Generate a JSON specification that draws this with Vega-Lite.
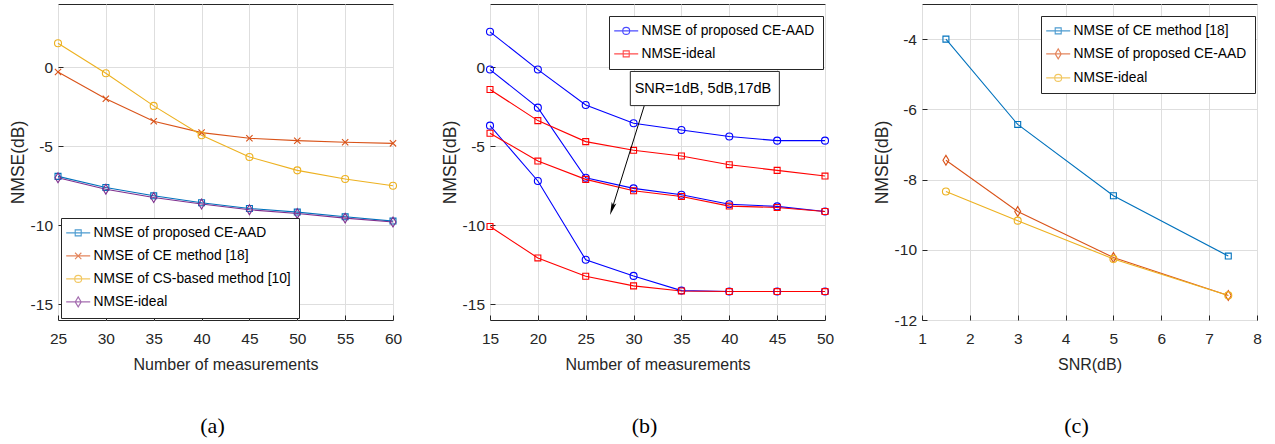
{
  "$schema": "https://vega.github.io/schema/vega-lite/v6.json",
  "background": "white",
  "padding": {"left": 8, "top": 3, "right": 5, "bottom": 2},
  "bounds": "flush",
  "spacing": 97,
  "datasets": {
    "a": [
      {"x": 25, "s": "NMSE of proposed CE-AAD", "y": -6.91},
      {"x": 30, "s": "NMSE of proposed CE-AAD", "y": -7.61},
      {"x": 35, "s": "NMSE of proposed CE-AAD", "y": -8.14},
      {"x": 40, "s": "NMSE of proposed CE-AAD", "y": -8.58},
      {"x": 45, "s": "NMSE of proposed CE-AAD", "y": -8.94},
      {"x": 50, "s": "NMSE of proposed CE-AAD", "y": -9.17},
      {"x": 55, "s": "NMSE of proposed CE-AAD", "y": -9.47},
      {"x": 60, "s": "NMSE of proposed CE-AAD", "y": -9.74},
      {"x": 25, "s": "NMSE of CE method [18]", "y": -0.3},
      {"x": 30, "s": "NMSE of CE method [18]", "y": -2.0},
      {"x": 35, "s": "NMSE of CE method [18]", "y": -3.42},
      {"x": 40, "s": "NMSE of CE method [18]", "y": -4.14},
      {"x": 45, "s": "NMSE of CE method [18]", "y": -4.5},
      {"x": 50, "s": "NMSE of CE method [18]", "y": -4.65},
      {"x": 55, "s": "NMSE of CE method [18]", "y": -4.75},
      {"x": 60, "s": "NMSE of CE method [18]", "y": -4.82},
      {"x": 25, "s": "NMSE of CS-based method [10]", "y": 1.52},
      {"x": 30, "s": "NMSE of CS-based method [10]", "y": -0.38},
      {"x": 35, "s": "NMSE of CS-based method [10]", "y": -2.45},
      {"x": 40, "s": "NMSE of CS-based method [10]", "y": -4.31},
      {"x": 45, "s": "NMSE of CS-based method [10]", "y": -5.68},
      {"x": 50, "s": "NMSE of CS-based method [10]", "y": -6.53},
      {"x": 55, "s": "NMSE of CS-based method [10]", "y": -7.08},
      {"x": 60, "s": "NMSE of CS-based method [10]", "y": -7.5},
      {"x": 25, "s": "NMSE-ideal", "y": -7.0},
      {"x": 30, "s": "NMSE-ideal", "y": -7.72},
      {"x": 35, "s": "NMSE-ideal", "y": -8.25},
      {"x": 40, "s": "NMSE-ideal", "y": -8.66},
      {"x": 45, "s": "NMSE-ideal", "y": -9.02},
      {"x": 50, "s": "NMSE-ideal", "y": -9.26},
      {"x": 55, "s": "NMSE-ideal", "y": -9.55},
      {"x": 60, "s": "NMSE-ideal", "y": -9.8}
    ],
    "b": [
      {"x": 15, "m": "NMSE of proposed CE-AAD", "snr": 1, "y": 2.24},
      {"x": 20, "m": "NMSE of proposed CE-AAD", "snr": 1, "y": -0.15},
      {"x": 25, "m": "NMSE of proposed CE-AAD", "snr": 1, "y": -2.39},
      {"x": 30, "m": "NMSE of proposed CE-AAD", "snr": 1, "y": -3.55},
      {"x": 35, "m": "NMSE of proposed CE-AAD", "snr": 1, "y": -3.97},
      {"x": 40, "m": "NMSE of proposed CE-AAD", "snr": 1, "y": -4.39},
      {"x": 45, "m": "NMSE of proposed CE-AAD", "snr": 1, "y": -4.65},
      {"x": 50, "m": "NMSE of proposed CE-AAD", "snr": 1, "y": -4.65},
      {"x": 15, "m": "NMSE of proposed CE-AAD", "snr": 5, "y": -0.15},
      {"x": 20, "m": "NMSE of proposed CE-AAD", "snr": 5, "y": -2.56},
      {"x": 25, "m": "NMSE of proposed CE-AAD", "snr": 5, "y": -7.0},
      {"x": 30, "m": "NMSE of proposed CE-AAD", "snr": 5, "y": -7.67},
      {"x": 35, "m": "NMSE of proposed CE-AAD", "snr": 5, "y": -8.07},
      {"x": 40, "m": "NMSE of proposed CE-AAD", "snr": 5, "y": -8.67},
      {"x": 45, "m": "NMSE of proposed CE-AAD", "snr": 5, "y": -8.81},
      {"x": 50, "m": "NMSE of proposed CE-AAD", "snr": 5, "y": -9.13},
      {"x": 15, "m": "NMSE of proposed CE-AAD", "snr": 17, "y": -3.7},
      {"x": 20, "m": "NMSE of proposed CE-AAD", "snr": 17, "y": -7.2},
      {"x": 25, "m": "NMSE of proposed CE-AAD", "snr": 17, "y": -12.19},
      {"x": 30, "m": "NMSE of proposed CE-AAD", "snr": 17, "y": -13.21},
      {"x": 35, "m": "NMSE of proposed CE-AAD", "snr": 17, "y": -14.14},
      {"x": 40, "m": "NMSE of proposed CE-AAD", "snr": 17, "y": -14.2},
      {"x": 45, "m": "NMSE of proposed CE-AAD", "snr": 17, "y": -14.2},
      {"x": 50, "m": "NMSE of proposed CE-AAD", "snr": 17, "y": -14.2},
      {"x": 15, "m": "NMSE-ideal", "snr": 1, "y": -1.41},
      {"x": 20, "m": "NMSE-ideal", "snr": 1, "y": -3.38},
      {"x": 25, "m": "NMSE-ideal", "snr": 1, "y": -4.71},
      {"x": 30, "m": "NMSE-ideal", "snr": 1, "y": -5.26},
      {"x": 35, "m": "NMSE-ideal", "snr": 1, "y": -5.62},
      {"x": 40, "m": "NMSE-ideal", "snr": 1, "y": -6.17},
      {"x": 45, "m": "NMSE-ideal", "snr": 1, "y": -6.53},
      {"x": 50, "m": "NMSE-ideal", "snr": 1, "y": -6.89},
      {"x": 15, "m": "NMSE-ideal", "snr": 5, "y": -4.18},
      {"x": 20, "m": "NMSE-ideal", "snr": 5, "y": -5.94},
      {"x": 25, "m": "NMSE-ideal", "snr": 5, "y": -7.1},
      {"x": 30, "m": "NMSE-ideal", "snr": 5, "y": -7.82},
      {"x": 35, "m": "NMSE-ideal", "snr": 5, "y": -8.18},
      {"x": 40, "m": "NMSE-ideal", "snr": 5, "y": -8.79},
      {"x": 45, "m": "NMSE-ideal", "snr": 5, "y": -8.88},
      {"x": 50, "m": "NMSE-ideal", "snr": 5, "y": -9.13},
      {"x": 15, "m": "NMSE-ideal", "snr": 17, "y": -10.08},
      {"x": 20, "m": "NMSE-ideal", "snr": 17, "y": -12.07},
      {"x": 25, "m": "NMSE-ideal", "snr": 17, "y": -13.23},
      {"x": 30, "m": "NMSE-ideal", "snr": 17, "y": -13.84},
      {"x": 35, "m": "NMSE-ideal", "snr": 17, "y": -14.16},
      {"x": 40, "m": "NMSE-ideal", "snr": 17, "y": -14.2},
      {"x": 45, "m": "NMSE-ideal", "snr": 17, "y": -14.2},
      {"x": 50, "m": "NMSE-ideal", "snr": 17, "y": -14.2}
    ],
    "c": [
      {"x": 1.5, "s": "NMSE of CE method [18]", "y": -4.0},
      {"x": 3, "s": "NMSE of CE method [18]", "y": -6.43},
      {"x": 5, "s": "NMSE of CE method [18]", "y": -8.46},
      {"x": 7.4, "s": "NMSE of CE method [18]", "y": -10.18},
      {"x": 1.5, "s": "NMSE of proposed CE-AAD", "y": -7.45},
      {"x": 3, "s": "NMSE of proposed CE-AAD", "y": -8.91},
      {"x": 5, "s": "NMSE of proposed CE-AAD", "y": -10.22},
      {"x": 7.4, "s": "NMSE of proposed CE-AAD", "y": -11.3},
      {"x": 1.5, "s": "NMSE-ideal", "y": -8.34},
      {"x": 3, "s": "NMSE-ideal", "y": -9.17},
      {"x": 5, "s": "NMSE-ideal", "y": -10.26},
      {"x": 7.4, "s": "NMSE-ideal", "y": -11.3}
    ],
    "boxB": [{"x": 29.66, "x2": 45.23, "y": -0.27, "y2": -2.43}],
    "labelB": [{"x": 37.25, "y": -1.37, "t": "SNR=1dB, 5dB,17dB"}],
    "arrowB": [{"x": 31.12, "y": -2.43, "x2": 27.75, "y2": -8.97}],
    "headB": [{"x": 27.75, "y": -8.97}]
  },
  "hconcat": [
    {
      "width": 335,
      "height": 316,
      "title": {"text": "(a)", "dx": -13},
      "layer": [
        {
          "data": {"name": "a"},
          "mark": {"type": "line", "strokeWidth": 1.1},
          "encoding": {
            "x": {"field": "x", "type": "quantitative", "scale": {"domain": [25, 60]}, "axis": {"values": [25, 30, 35, 40, 45, 50, 55, 60], "title": "Number of measurements"}},
            "y": {"field": "y", "type": "quantitative", "scale": {"domain": [-16, 4]}, "axis": {"values": [-15, -10, -5, 0], "title": "NMSE(dB)"}},
            "color": {"field": "s", "type": "nominal", "scale": {"domain": ["NMSE of proposed CE-AAD", "NMSE of CE method [18]", "NMSE of CS-based method [10]", "NMSE-ideal"], "range": ["#0072BD", "#D95319", "#EDB120", "#7E2F8E"]}, "legend": null}
          }
        },
        {
          "data": {"name": "a"},
          "mark": {"type": "point", "filled": false, "size": 49, "strokeWidth": 1.1, "opacity": 1},
          "encoding": {
            "x": {"field": "x", "type": "quantitative"},
            "y": {"field": "y", "type": "quantitative"},
            "color": {"field": "s", "type": "nominal", "scale": {"domain": ["NMSE of proposed CE-AAD", "NMSE of CE method [18]", "NMSE of CS-based method [10]", "NMSE-ideal"], "range": ["#0072BD", "#D95319", "#EDB120", "#7E2F8E"]}, "legend": null},
            "shape": {"field": "s", "type": "nominal", "scale": {"domain": ["NMSE of proposed CE-AAD", "NMSE of CE method [18]", "NMSE of CS-based method [10]", "NMSE-ideal"], "range": ["M-0.85,-0.85H0.85V0.85H-0.85Z", "M-0.9,-0.9L0.9,0.9M-0.9,0.9L0.9,-0.9", "circle", "M0,-1.4L0.85,0L0,1.4L-0.85,0Z"]}, "legend": null}
          }
        },
        {
          "data": {"values": []},
          "mark": {"type": "point", "filled": false, "strokeWidth": 1.1},
          "encoding": {
            "color": {"field": "s", "type": "nominal", "scale": {"domain": ["NMSE of proposed CE-AAD", "NMSE of CE method [18]", "NMSE of CS-based method [10]", "NMSE-ideal"], "range": ["#0072BD", "#D95319", "#EDB120", "#7E2F8E"]}, "legend": {"legendX": 3, "legendY": 214}},
            "shape": {"field": "s", "type": "nominal", "scale": {"domain": ["NMSE of proposed CE-AAD", "NMSE of CE method [18]", "NMSE of CS-based method [10]", "NMSE-ideal"], "range": ["M-2.4,0H2.4M-0.6,-0.6H0.6V0.6H-0.6Z", "M-2.4,0H2.4M-0.63,-0.63L0.63,0.63M-0.63,0.63L0.63,-0.63", "M-2.4,0H2.4M-0.7,0A0.7,0.7,0,1,0,0.7,0A0.7,0.7,0,1,0,-0.7,0Z", "M-2.4,0H2.4M0,-1L0.6,0L0,1L-0.6,0Z"]}, "legend": {"legendX": 3, "legendY": 214}}
          }
        }
      ],
      "resolve": {"scale": {"color": "independent", "shape": "independent"}}
    },
    {
      "width": 335,
      "height": 316,
      "title": {"text": "(b)", "dx": -13},
      "layer": [
        {
          "data": {"name": "b"},
          "mark": {"type": "line", "strokeWidth": 1.1},
          "encoding": {
            "x": {"field": "x", "type": "quantitative", "scale": {"domain": [15, 50]}, "axis": {"values": [15, 20, 25, 30, 35, 40, 45, 50], "title": "Number of measurements"}},
            "y": {"field": "y", "type": "quantitative", "scale": {"domain": [-16, 4]}, "axis": {"values": [-15, -10, -5, 0], "title": "NMSE(dB)"}},
            "detail": {"field": "snr", "type": "nominal"},
            "color": {"field": "m", "type": "nominal", "scale": {"domain": ["NMSE of proposed CE-AAD", "NMSE-ideal"], "range": ["#0000FF", "#FF0000"]}, "legend": null}
          }
        },
        {
          "data": {"name": "b"},
          "mark": {"type": "point", "filled": false, "size": 49, "strokeWidth": 1.1, "opacity": 1},
          "encoding": {
            "x": {"field": "x", "type": "quantitative"},
            "y": {"field": "y", "type": "quantitative"},
            "color": {"field": "m", "type": "nominal", "scale": {"domain": ["NMSE of proposed CE-AAD", "NMSE-ideal"], "range": ["#0000FF", "#FF0000"]}, "legend": null},
            "shape": {"field": "m", "type": "nominal", "scale": {"domain": ["NMSE of proposed CE-AAD", "NMSE-ideal"], "range": ["circle", "M-0.85,-0.85H0.85V0.85H-0.85Z"]}, "legend": null}
          }
        },
        {
          "data": {"values": []},
          "mark": {"type": "point", "filled": false, "strokeWidth": 1.1},
          "encoding": {
            "color": {"field": "m", "type": "nominal", "scale": {"domain": ["NMSE of proposed CE-AAD", "NMSE-ideal"], "range": ["#0000FF", "#FF0000"]}, "legend": {"legendX": 119, "legendY": 12}},
            "shape": {"field": "m", "type": "nominal", "scale": {"domain": ["NMSE of proposed CE-AAD", "NMSE-ideal"], "range": ["M-2.4,0H2.4M-0.7,0A0.7,0.7,0,1,0,0.7,0A0.7,0.7,0,1,0,-0.7,0Z", "M-2.4,0H2.4M-0.6,-0.6H0.6V0.6H-0.6Z"]}, "legend": {"legendX": 119, "legendY": 12}}
          }
        },
        {
          "data": {"name": "arrowB"},
          "mark": {"type": "rule", "color": "black", "strokeWidth": 1},
          "encoding": {
            "x": {"field": "x", "type": "quantitative"},
            "y": {"field": "y", "type": "quantitative"},
            "x2": {"field": "x2"},
            "y2": {"field": "y2"}
          }
        },
        {
          "data": {"name": "headB"},
          "mark": {"type": "point", "shape": "M0,1L-0.38,-1L0,-0.6L0.38,-1Z", "filled": true, "color": "black", "size": 169, "angle": 18, "opacity": 1},
          "encoding": {
            "x": {"field": "x", "type": "quantitative"},
            "y": {"field": "y", "type": "quantitative"}
          }
        },
        {
          "data": {"name": "boxB"},
          "mark": {"type": "rect", "fill": "white", "stroke": "#262626", "strokeWidth": 1},
          "encoding": {
            "x": {"field": "x", "type": "quantitative"},
            "y": {"field": "y", "type": "quantitative"},
            "x2": {"field": "x2"},
            "y2": {"field": "y2"}
          }
        },
        {
          "data": {"name": "labelB"},
          "mark": {"type": "text", "font": "Liberation Sans", "fontSize": 14.5, "color": "black", "align": "center", "baseline": "middle"},
          "encoding": {
            "x": {"field": "x", "type": "quantitative"},
            "y": {"field": "y", "type": "quantitative"},
            "text": {"field": "t"}
          }
        }
      ],
      "resolve": {"scale": {"color": "independent", "shape": "independent"}}
    },
    {
      "width": 335,
      "height": 316,
      "title": {"text": "(c)", "dx": -13},
      "layer": [
        {
          "data": {"name": "c"},
          "mark": {"type": "line", "strokeWidth": 1.1},
          "encoding": {
            "x": {"field": "x", "type": "quantitative", "scale": {"domain": [1, 8]}, "axis": {"values": [1, 2, 3, 4, 5, 6, 7, 8], "title": "SNR(dB)"}},
            "y": {"field": "y", "type": "quantitative", "scale": {"domain": [-12, -3]}, "axis": {"values": [-12, -10, -8, -6, -4], "title": "NMSE(dB)"}},
            "color": {"field": "s", "type": "nominal", "scale": {"domain": ["NMSE of CE method [18]", "NMSE of proposed CE-AAD", "NMSE-ideal"], "range": ["#0072BD", "#D95319", "#EDB120"]}, "legend": null}
          }
        },
        {
          "data": {"name": "c"},
          "mark": {"type": "point", "filled": false, "size": 49, "strokeWidth": 1.1, "opacity": 1},
          "encoding": {
            "x": {"field": "x", "type": "quantitative"},
            "y": {"field": "y", "type": "quantitative"},
            "color": {"field": "s", "type": "nominal", "scale": {"domain": ["NMSE of CE method [18]", "NMSE of proposed CE-AAD", "NMSE-ideal"], "range": ["#0072BD", "#D95319", "#EDB120"]}, "legend": null},
            "shape": {"field": "s", "type": "nominal", "scale": {"domain": ["NMSE of CE method [18]", "NMSE of proposed CE-AAD", "NMSE-ideal"], "range": ["M-0.85,-0.85H0.85V0.85H-0.85Z", "M0,-1.4L0.85,0L0,1.4L-0.85,0Z", "circle"]}, "legend": null}
          }
        },
        {
          "data": {"values": []},
          "mark": {"type": "point", "filled": false, "strokeWidth": 1.1},
          "encoding": {
            "color": {"field": "s", "type": "nominal", "scale": {"domain": ["NMSE of CE method [18]", "NMSE of proposed CE-AAD", "NMSE-ideal"], "range": ["#0072BD", "#D95319", "#EDB120"]}, "legend": {"legendX": 119, "legendY": 12}},
            "shape": {"field": "s", "type": "nominal", "scale": {"domain": ["NMSE of CE method [18]", "NMSE of proposed CE-AAD", "NMSE-ideal"], "range": ["M-2.4,0H2.4M-0.6,-0.6H0.6V0.6H-0.6Z", "M-2.4,0H2.4M0,-1L0.6,0L0,1L-0.6,0Z", "M-2.4,0H2.4M-0.7,0A0.7,0.7,0,1,0,0.7,0A0.7,0.7,0,1,0,-0.7,0Z"]}, "legend": {"legendX": 119, "legendY": 12}}
          }
        }
      ],
      "resolve": {"scale": {"color": "independent", "shape": "independent"}}
    }
  ],
  "config": {
    "view": {"stroke": "#262626", "strokeWidth": 1},
    "axis": {
      "domain": false,
      "grid": true,
      "gridColor": "#dedede",
      "gridWidth": 1,
      "ticks": true,
      "tickColor": "#262626",
      "tickSize": -5,
      "labelFlush": false,
      "labelOverlap": false,
      "labelFont": "Liberation Sans",
      "labelFontSize": 15.5,
      "labelColor": "#262626",
      "labelExpr": "replace(datum.label, '\u2212', '-')",
      "titleFont": "Liberation Sans",
      "titleFontSize": 16,
      "titleFontWeight": "normal",
      "titleColor": "#262626"
    },
    "axisX": {"labelPadding": 16, "titlePadding": 10},
    "axisY": {"labelPadding": 10.5, "titlePadding": 3, "titleFontSize": 17.5},
    "legend": {
      "orient": "none",
      "title": null,
      "strokeColor": "#262626",
      "fillColor": "white",
      "padding": 8,
      "symbolSize": 100,
      "symbolOffset": 2.3,
      "labelOffset": 8.5,
      "rowPadding": 8,
      "labelFont": "Liberation Sans",
      "labelFontSize": 13.8,
      "labelColor": "black",
      "labelLimit": 400,
      "symbolStrokeWidth": 1.1,
      "symbolFillColor": "transparent"
    },
    "title": {
      "orient": "bottom",
      "anchor": "middle",
      "frame": "group",
      "offset": 43,
      "font": "Liberation Serif",
      "fontSize": 22,
      "fontWeight": "normal",
      "color": "black"
    }
  }
}
